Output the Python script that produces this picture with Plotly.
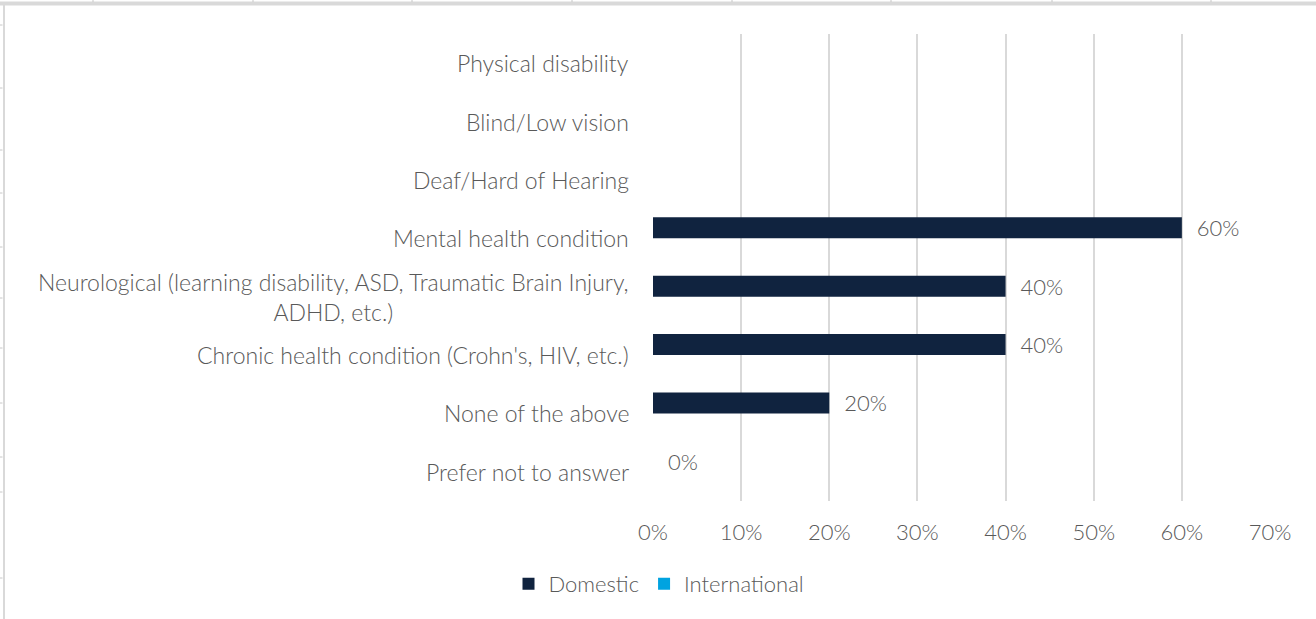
import plotly.graph_objects as go

# Categories, top to bottom as shown
categories = [
    "Physical disability",
    "Blind/Low vision",
    "Deaf/Hard of Hearing",
    "Mental health condition",
    "Neurological (learning disability, ASD, Traumatic Brain Injury,<br>ADHD, etc.)",
    "Chronic health condition (Crohn's, HIV, etc.)",
    "None of the above",
    "Prefer not to answer",
]
domestic = [None, None, None, 0.60, 0.40, 0.40, 0.20, 0.00]
international = [None, None, None, None, None, None, None, None]
x_ticks = [0, 0.1, 0.2, 0.3, 0.4, 0.5, 0.6, 0.7]

W, H = 1316, 619
L, R, T, B = 653, 46, 34, 118
pw, ph = W - L - R, H - T - B

def px(x):
    return (x - L) / pw

def py(y):
    return (H - B - y) / ph

FONT = "Lato, 'Open Sans', sans-serif"
GREY = "#595959"
FS = 23

fig = go.Figure()
fig.add_trace(go.Bar(
    y=categories, x=domestic, name="Domestic", orientation="h",
    marker=dict(color="#10233f", line=dict(width=0)),
    texttemplate="\u00a0\u00a0%{x:.0%}", textposition="outside", cliponaxis=False,
    constraintext="none",
    textfont=dict(size=FS - 1, color=GREY, family=FONT, weight=300),
))
fig.add_trace(go.Bar(
    y=categories, x=international, name="International", orientation="h",
    marker=dict(color="#00a3e0", line=dict(width=0)),
))

# category labels, centred multi-line like Excel
for c in categories:
    fig.add_annotation(
        x=0, xref="paper", y=c, yref="y", text=c, showarrow=False,
        xanchor="right", align="center", xshift=-22,
        font=dict(size=FS, color=GREY, family=FONT, weight=300),
    )

# spreadsheet frame remnants
shapes = [
    dict(type="rect", xref="paper", yref="paper", x0=px(0), x1=px(W), y0=py(5.5), y1=py(1.5),
         fillcolor="#d9d9d9", line_width=0, layer="above"),
    dict(type="rect", xref="paper", yref="paper", x0=px(3), x1=px(5), y0=py(H), y1=py(5),
         fillcolor="#d9d9d9", line_width=0, layer="above"),
]
for tx in [93, 253, 412, 572, 732, 891, 1052, 1211]:
    shapes.append(dict(type="line", xref="paper", yref="paper", x0=px(tx), x1=px(tx),
                       y0=py(0), y1=py(2), line=dict(color="#c8c8c8", width=1)))
for ty in [25, 88, 150, 193, 247, 298, 348, 403, 457, 492, 578]:
    shapes.append(dict(type="line", xref="paper", yref="paper", x0=px(0), x1=px(2.5),
                       y0=py(ty), y1=py(ty), line=dict(color="#c8c8c8", width=1)))

fig.update_layout(
    width=W, height=H,
    margin=dict(l=L, r=R, t=T, b=B),
    paper_bgcolor="white", plot_bgcolor="white",
    barmode="group", bargap=0.28, bargroupgap=0,
    font=dict(family=FONT, size=FS, color=GREY),
    showlegend=True,
    legend=dict(orientation="h", x=px(659), xanchor="center", y=py(584), yanchor="middle",
                font=dict(size=FS - 1, color=GREY, family=FONT, weight=300), itemwidth=30,
                traceorder="normal"),
    shapes=shapes,
)
fig.update_xaxes(
    range=[0, 0.7], tickvals=x_ticks, tickformat=".0%",
    showgrid=True, gridcolor="#d9d9d9", gridwidth=1.5, zeroline=False,
    showline=False, ticks="", ticklabelstandoff=16,
    tickfont=dict(size=FS - 1, color=GREY, family=FONT, weight=300),
)
fig.update_yaxes(
    type="category", categoryarray=categories, autorange="reversed",
    showticklabels=False, showgrid=False, zeroline=False, showline=False, ticks="",
)

fig.write_html("out.html", config={"displayModeBar": False},
               post_script="document.body.style.margin='0px';")
